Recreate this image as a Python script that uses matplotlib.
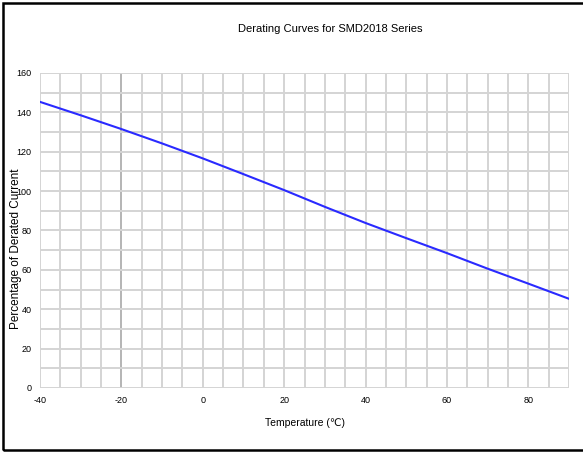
import matplotlib
matplotlib.use('Agg')
import matplotlib.pyplot as plt
from matplotlib.patches import Rectangle

plt.rcParams['font.family'] = ['Liberation Sans Narrow', 'Liberation Sans', 'DejaVu Sans']
plt.rcParams['axes.unicode_minus'] = False

# derating curve
temps = [-40, -30, -20, -10, 0, 10, 20, 30, 40, 50, 60, 70, 80, 90]
percent = [145.3, 138.5, 131.5, 124.2, 116.6, 108.6, 100.5, 92.0, 83.8, 76.1, 68.5, 60.6, 53.0, 45.3]

xticks = [-40, -20, 0, 20, 40, 60, 80]
yticks = [0, 20, 40, 60, 80, 100, 120, 140, 160]

fig = plt.figure(figsize=(5.83, 4.53), dpi=100)
ax = fig.add_axes([0.0686, 0.1435, 0.9074, 0.6955])

# grid every 5 degrees / 10 percent
for x in range(-40, 91, 5):
    c = '#b4b4b4' if x == -20 else '#d4d4d4'
    ax.axvline(x, color=c, lw=1.4, zorder=1)
for y in range(0, 161, 10):
    ax.axhline(y, color='#d4d4d4', lw=1.4, zorder=1)

ax.plot(temps, percent, color='#2a2aff', lw=1.5, zorder=3)

ax.set_xlim(-40, 90)
ax.set_ylim(0, 160)
ax.set_xticks(xticks)
ax.set_yticks(yticks)
ax.tick_params(length=0, labelsize=6.5, pad=6)
for s in ax.spines.values():
    s.set_visible(False)

ax.set_xlabel('Temperature (\u2103)', fontsize=7.5, labelpad=9)
fig.text(0.028, 0.45, 'Percentage of Derated Current', rotation=90,
         ha='center', va='center', fontsize=8.5,
         family=['Liberation Sans', 'DejaVu Sans'])
fig.text(0.566, 0.937, 'Derating Curves for SMD2018 Series', ha='center',
         va='center', fontsize=8)

# outer frame of the picture
fig.patches.append(Rectangle((0.006, 0.006), 1.2, 0.988, transform=fig.transFigure,
                             fill=False, edgecolor='black', lw=1.8))

fig.savefig('out.png', dpi=100)
